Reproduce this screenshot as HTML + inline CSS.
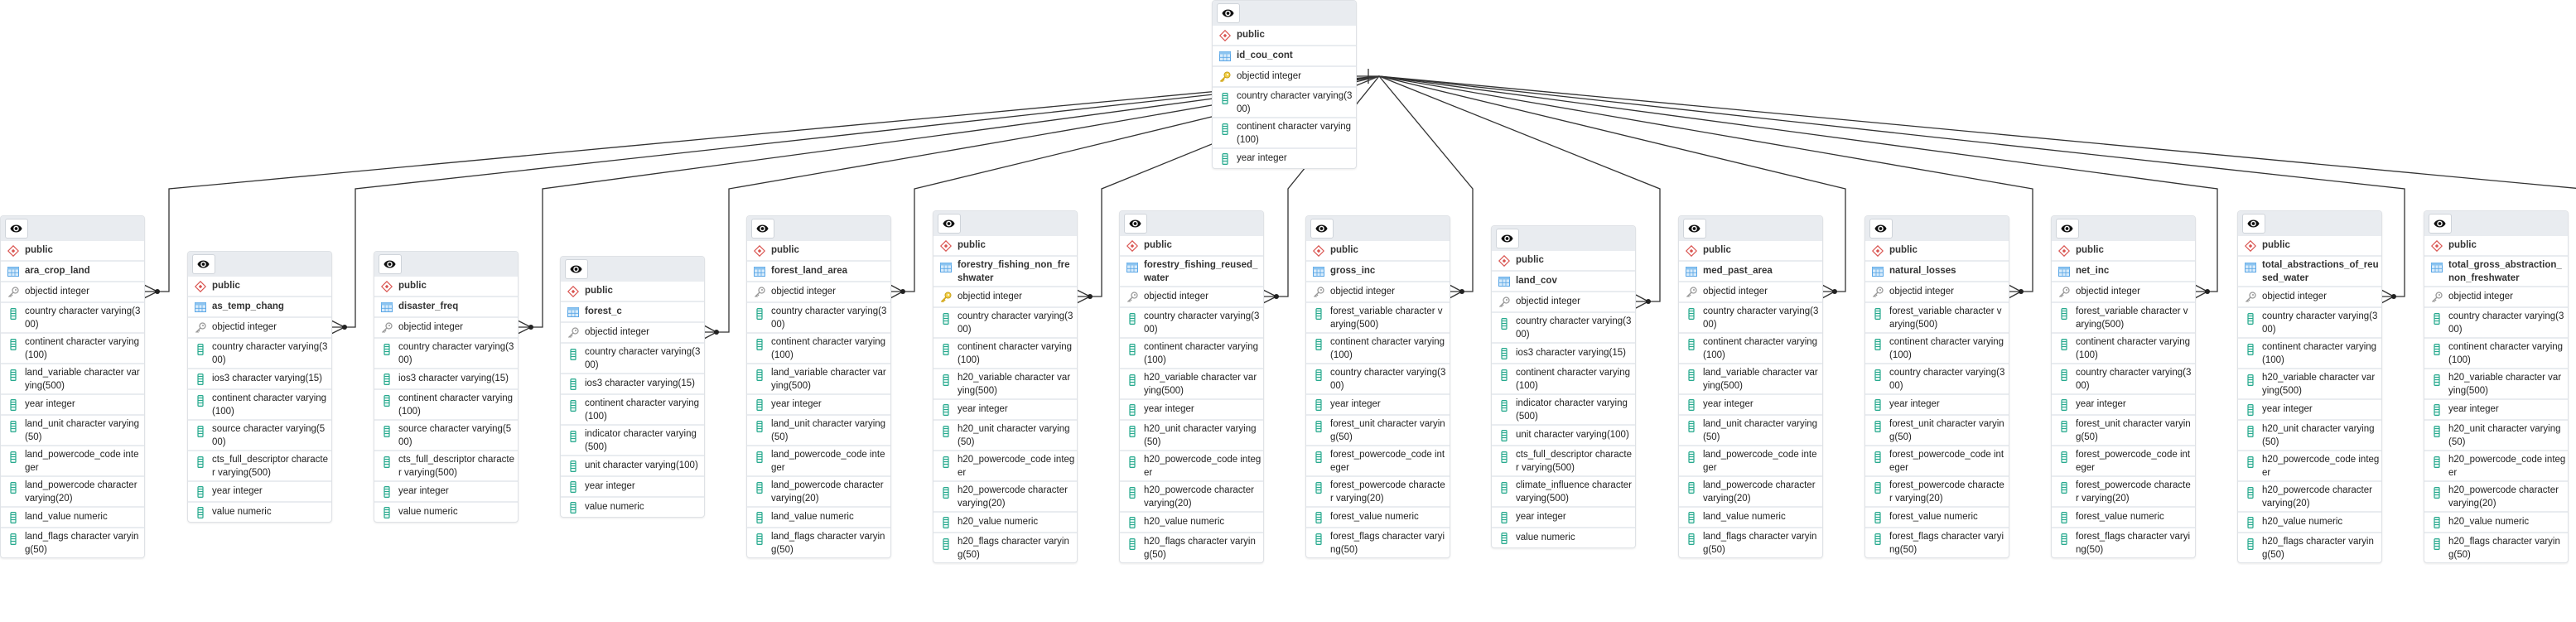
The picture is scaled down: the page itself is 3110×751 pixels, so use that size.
<!DOCTYPE html>
<html><head><meta charset="utf-8">
<style>
html,body{margin:0;padding:0;background:#fff;width:3110px;height:751px;overflow:hidden;position:relative;font-family:"Liberation Sans",Arial,sans-serif;}
svg.lines{position:absolute;left:0;top:0;z-index:1}
.t{position:absolute;width:173px;background:#fff;border:1px solid #dfe2e6;border-radius:4px;z-index:2;box-shadow:0 1px 2px rgba(0,0,0,.08);overflow:hidden}
.h{height:30px;background:#e9ecf0;position:relative}
.eb{position:absolute;left:5px;top:3px;width:26px;height:22px;background:#fff;border:1px solid #cfd4da;border-radius:3px}
.eb svg{position:absolute;left:4px;top:5px;width:17px;height:12px}
.r,.r2{position:relative;padding-left:29px;border-top:2px solid #e9ecf0;font-size:11.5px;color:#222;white-space:nowrap}
.r{height:23px;line-height:23px}
.r2{line-height:16px;padding-top:2px;box-sizing:content-box;height:33px}
.b{font-weight:bold;color:#333}
.h+.r{border-top:none}
.i{position:absolute;left:8px;top:5px;width:14px;height:14px}
.r2 .i{top:6px}
</style></head><body>
<svg width="0" height="0" style="position:absolute">
<defs>
<symbol id="eye" viewBox="0 0 14 11"><path d="M0.5 5.5 C3 0 11 0 13.5 5.5 C11 11 3 11 0.5 5.5Z" fill="#111"/><circle cx="7" cy="5.5" r="3" fill="#fff"/><circle cx="7" cy="5.5" r="1.7" fill="#111"/></symbol>
<symbol id="pub" viewBox="0 0 14 14"><path d="M7 0.8 L13.2 7 L7 13.2 L0.8 7Z" fill="#fff" stroke="#d9534f" stroke-width="1.2"/><path d="M7 4.8 L9.2 7 L7 9.2 L4.8 7Z" fill="#d9534f"/></symbol>
<symbol id="tbl" viewBox="0 0 14 14"><rect x="0.5" y="1.5" width="13" height="11" fill="#d7ebfb" stroke="#5aa6e6"/><rect x="0.5" y="1.5" width="13" height="3" fill="#8cc4f0"/><path d="M0.5 8.3H13.5M5 4.5V12.5M9 4.5V12.5" stroke="#5aa6e6" stroke-width="0.8"/></symbol>
<symbol id="key" viewBox="0 0 14 14"><circle cx="9.5" cy="4.5" r="3.5" fill="#fff" stroke="#999" stroke-width="1.3"/><circle cx="10" cy="4" r="1" fill="#999"/><path d="M7 7 L1.5 12.5 M3 11 L4.5 12.5 M4.5 9.5 L6 11" stroke="#999" stroke-width="1.4"/></symbol>
<symbol id="gkey" viewBox="0 0 14 14"><circle cx="9.5" cy="4.5" r="3.5" fill="#f3d04a" stroke="#c9a21a" stroke-width="1"/><circle cx="10" cy="4" r="1" fill="#fff"/><path d="M7 7 L1.5 12.5 M3 11 L4.5 12.5 M4.5 9.5 L6 11" stroke="#d4aa1e" stroke-width="1.8"/></symbol>
<symbol id="col" viewBox="0 0 14 14"><rect x="4" y="0.6" width="6" height="12.8" rx="1" fill="#e8f8f4" stroke="#27a98e" stroke-width="1.2"/><path d="M4 3.5H10M4 6.5H10M4 9.5H10" stroke="#27a98e" stroke-width="0.9"/></symbol>
</defs></svg>

<svg class="lines" width="3110" height="751" viewBox="0 0 3110 751">
<g fill="none" stroke="#333" stroke-width="1.3">
<path d="M1636 92H1665M1652 83V101"/>
<path d="M1665 92L204 228V352H190M190 352L174 344M190 352L174 352M190 352L174 360"/>
<path d="M1665 92L429 228V395H416M416 395L400 387M416 395L400 395M416 395L400 403"/>
<path d="M1665 92L655 228V395H641M641 395L625 387M641 395L625 395M641 395L625 403"/>
<path d="M1665 92L880 228V401H865M865 401L850 393M865 401L850 401M865 401L850 409"/>
<path d="M1665 92L1104 228V352H1090M1090 352L1075 344M1090 352L1075 352M1090 352L1075 360"/>
<path d="M1665 92L1330 228V358H1316M1316 358L1300 350M1316 358L1300 358M1316 358L1300 366"/>
<path d="M1665 92L1555 228V358H1541M1541 358L1525 350M1541 358L1525 358M1541 358L1525 366"/>
<path d="M1665 92L1778 228V352H1765M1765 352L1750 344M1765 352L1750 352M1765 352L1750 360"/>
<path d="M1665 92L2004 228V364H1990M1990 364L1975 356M1990 364L1975 364M1990 364L1975 372"/>
<path d="M1665 92L2228 228V352H2215M2215 352L2200 344M2215 352L2200 352M2215 352L2200 360"/>
<path d="M1665 92L2454 228V352H2440M2440 352L2425 344M2440 352L2425 352M2440 352L2425 360"/>
<path d="M1665 92L2677 228V352H2665M2665 352L2650 344M2665 352L2650 352M2665 352L2650 360"/>
<path d="M1665 92L2903 228V358H2890M2890 358L2875 350M2890 358L2875 358M2890 358L2875 366"/>
<path d="M1665 92L3128 229"/>
</g>
<g fill="#222">
<circle cx="190" cy="352" r="3"/><circle cx="416" cy="395" r="3"/><circle cx="641" cy="395" r="3"/><circle cx="865" cy="401" r="3"/><circle cx="1090" cy="352" r="3"/><circle cx="1316" cy="358" r="3"/><circle cx="1541" cy="358" r="3"/><circle cx="1765" cy="352" r="3"/><circle cx="1990" cy="364" r="3"/><circle cx="2215" cy="352" r="3"/><circle cx="2440" cy="352" r="3"/><circle cx="2665" cy="352" r="3"/><circle cx="2890" cy="358" r="3"/>
</g>
</svg>

<div class="t" style="left:1463px;top:0px">
<div class="h"><div class="eb"><svg><use href="#eye"/></svg></div></div>
<div class="r b"><svg class="i"><use href="#pub"/></svg>public</div>
<div class="r b"><svg class="i"><use href="#tbl"/></svg>id_cou_cont</div>
<div class="r"><svg class="i"><use href="#gkey"/></svg>objectid integer</div>
<div class="r2"><svg class="i"><use href="#col"/></svg>country character varying(3<br>00)</div>
<div class="r2"><svg class="i"><use href="#col"/></svg>continent character varying<br>(100)</div>
<div class="r"><svg class="i"><use href="#col"/></svg>year integer</div>
</div>

<div class="t" style="left:0px;top:260px">
<div class="h"><div class="eb"><svg><use href="#eye"/></svg></div></div>
<div class="r b"><svg class="i"><use href="#pub"/></svg>public</div>
<div class="r b"><svg class="i"><use href="#tbl"/></svg>ara_crop_land</div>
<div class="r"><svg class="i"><use href="#key"/></svg>objectid integer</div>
<div class="r2"><svg class="i"><use href="#col"/></svg>country character varying(3<br>00)</div>
<div class="r2"><svg class="i"><use href="#col"/></svg>continent character varying<br>(100)</div>
<div class="r2"><svg class="i"><use href="#col"/></svg>land_variable character var<br>ying(500)</div>
<div class="r"><svg class="i"><use href="#col"/></svg>year integer</div>
<div class="r2"><svg class="i"><use href="#col"/></svg>land_unit character varying<br>(50)</div>
<div class="r2"><svg class="i"><use href="#col"/></svg>land_powercode_code inte<br>ger</div>
<div class="r2"><svg class="i"><use href="#col"/></svg>land_powercode character<br>varying(20)</div>
<div class="r"><svg class="i"><use href="#col"/></svg>land_value numeric</div>
<div class="r2"><svg class="i"><use href="#col"/></svg>land_flags character varyin<br>g(50)</div>
</div>

<div class="t" style="left:226px;top:303px">
<div class="h"><div class="eb"><svg><use href="#eye"/></svg></div></div>
<div class="r b"><svg class="i"><use href="#pub"/></svg>public</div>
<div class="r b"><svg class="i"><use href="#tbl"/></svg>as_temp_chang</div>
<div class="r"><svg class="i"><use href="#key"/></svg>objectid integer</div>
<div class="r2"><svg class="i"><use href="#col"/></svg>country character varying(3<br>00)</div>
<div class="r"><svg class="i"><use href="#col"/></svg>ios3 character varying(15)</div>
<div class="r2"><svg class="i"><use href="#col"/></svg>continent character varying<br>(100)</div>
<div class="r2"><svg class="i"><use href="#col"/></svg>source character varying(5<br>00)</div>
<div class="r2"><svg class="i"><use href="#col"/></svg>cts_full_descriptor characte<br>r varying(500)</div>
<div class="r"><svg class="i"><use href="#col"/></svg>year integer</div>
<div class="r"><svg class="i"><use href="#col"/></svg>value numeric</div>
</div>

<div class="t" style="left:451px;top:303px">
<div class="h"><div class="eb"><svg><use href="#eye"/></svg></div></div>
<div class="r b"><svg class="i"><use href="#pub"/></svg>public</div>
<div class="r b"><svg class="i"><use href="#tbl"/></svg>disaster_freq</div>
<div class="r"><svg class="i"><use href="#key"/></svg>objectid integer</div>
<div class="r2"><svg class="i"><use href="#col"/></svg>country character varying(3<br>00)</div>
<div class="r"><svg class="i"><use href="#col"/></svg>ios3 character varying(15)</div>
<div class="r2"><svg class="i"><use href="#col"/></svg>continent character varying<br>(100)</div>
<div class="r2"><svg class="i"><use href="#col"/></svg>source character varying(5<br>00)</div>
<div class="r2"><svg class="i"><use href="#col"/></svg>cts_full_descriptor characte<br>r varying(500)</div>
<div class="r"><svg class="i"><use href="#col"/></svg>year integer</div>
<div class="r"><svg class="i"><use href="#col"/></svg>value numeric</div>
</div>

<div class="t" style="left:676px;top:309px">
<div class="h"><div class="eb"><svg><use href="#eye"/></svg></div></div>
<div class="r b"><svg class="i"><use href="#pub"/></svg>public</div>
<div class="r b"><svg class="i"><use href="#tbl"/></svg>forest_c</div>
<div class="r"><svg class="i"><use href="#key"/></svg>objectid integer</div>
<div class="r2"><svg class="i"><use href="#col"/></svg>country character varying(3<br>00)</div>
<div class="r"><svg class="i"><use href="#col"/></svg>ios3 character varying(15)</div>
<div class="r2"><svg class="i"><use href="#col"/></svg>continent character varying<br>(100)</div>
<div class="r2"><svg class="i"><use href="#col"/></svg>indicator character varying<br>(500)</div>
<div class="r"><svg class="i"><use href="#col"/></svg>unit character varying(100)</div>
<div class="r"><svg class="i"><use href="#col"/></svg>year integer</div>
<div class="r"><svg class="i"><use href="#col"/></svg>value numeric</div>
</div>

<div class="t" style="left:901px;top:260px">
<div class="h"><div class="eb"><svg><use href="#eye"/></svg></div></div>
<div class="r b"><svg class="i"><use href="#pub"/></svg>public</div>
<div class="r b"><svg class="i"><use href="#tbl"/></svg>forest_land_area</div>
<div class="r"><svg class="i"><use href="#key"/></svg>objectid integer</div>
<div class="r2"><svg class="i"><use href="#col"/></svg>country character varying(3<br>00)</div>
<div class="r2"><svg class="i"><use href="#col"/></svg>continent character varying<br>(100)</div>
<div class="r2"><svg class="i"><use href="#col"/></svg>land_variable character var<br>ying(500)</div>
<div class="r"><svg class="i"><use href="#col"/></svg>year integer</div>
<div class="r2"><svg class="i"><use href="#col"/></svg>land_unit character varying<br>(50)</div>
<div class="r2"><svg class="i"><use href="#col"/></svg>land_powercode_code inte<br>ger</div>
<div class="r2"><svg class="i"><use href="#col"/></svg>land_powercode character<br>varying(20)</div>
<div class="r"><svg class="i"><use href="#col"/></svg>land_value numeric</div>
<div class="r2"><svg class="i"><use href="#col"/></svg>land_flags character varyin<br>g(50)</div>
</div>

<div class="t" style="left:1126px;top:254px">
<div class="h"><div class="eb"><svg><use href="#eye"/></svg></div></div>
<div class="r b"><svg class="i"><use href="#pub"/></svg>public</div>
<div class="r2 b"><svg class="i"><use href="#tbl"/></svg>forestry_fishing_non_fre<br>shwater</div>
<div class="r"><svg class="i"><use href="#gkey"/></svg>objectid integer</div>
<div class="r2"><svg class="i"><use href="#col"/></svg>country character varying(3<br>00)</div>
<div class="r2"><svg class="i"><use href="#col"/></svg>continent character varying<br>(100)</div>
<div class="r2"><svg class="i"><use href="#col"/></svg>h20_variable character var<br>ying(500)</div>
<div class="r"><svg class="i"><use href="#col"/></svg>year integer</div>
<div class="r2"><svg class="i"><use href="#col"/></svg>h20_unit character varying<br>(50)</div>
<div class="r2"><svg class="i"><use href="#col"/></svg>h20_powercode_code integ<br>er</div>
<div class="r2"><svg class="i"><use href="#col"/></svg>h20_powercode character<br>varying(20)</div>
<div class="r"><svg class="i"><use href="#col"/></svg>h20_value numeric</div>
<div class="r2"><svg class="i"><use href="#col"/></svg>h20_flags character varyin<br>g(50)</div>
</div>

<div class="t" style="left:1351px;top:254px">
<div class="h"><div class="eb"><svg><use href="#eye"/></svg></div></div>
<div class="r b"><svg class="i"><use href="#pub"/></svg>public</div>
<div class="r2 b"><svg class="i"><use href="#tbl"/></svg>forestry_fishing_reused_<br>water</div>
<div class="r"><svg class="i"><use href="#key"/></svg>objectid integer</div>
<div class="r2"><svg class="i"><use href="#col"/></svg>country character varying(3<br>00)</div>
<div class="r2"><svg class="i"><use href="#col"/></svg>continent character varying<br>(100)</div>
<div class="r2"><svg class="i"><use href="#col"/></svg>h20_variable character var<br>ying(500)</div>
<div class="r"><svg class="i"><use href="#col"/></svg>year integer</div>
<div class="r2"><svg class="i"><use href="#col"/></svg>h20_unit character varying<br>(50)</div>
<div class="r2"><svg class="i"><use href="#col"/></svg>h20_powercode_code integ<br>er</div>
<div class="r2"><svg class="i"><use href="#col"/></svg>h20_powercode character<br>varying(20)</div>
<div class="r"><svg class="i"><use href="#col"/></svg>h20_value numeric</div>
<div class="r2"><svg class="i"><use href="#col"/></svg>h20_flags character varyin<br>g(50)</div>
</div>

<div class="t" style="left:1576px;top:260px">
<div class="h"><div class="eb"><svg><use href="#eye"/></svg></div></div>
<div class="r b"><svg class="i"><use href="#pub"/></svg>public</div>
<div class="r b"><svg class="i"><use href="#tbl"/></svg>gross_inc</div>
<div class="r"><svg class="i"><use href="#key"/></svg>objectid integer</div>
<div class="r2"><svg class="i"><use href="#col"/></svg>forest_variable character v<br>arying(500)</div>
<div class="r2"><svg class="i"><use href="#col"/></svg>continent character varying<br>(100)</div>
<div class="r2"><svg class="i"><use href="#col"/></svg>country character varying(3<br>00)</div>
<div class="r"><svg class="i"><use href="#col"/></svg>year integer</div>
<div class="r2"><svg class="i"><use href="#col"/></svg>forest_unit character varyin<br>g(50)</div>
<div class="r2"><svg class="i"><use href="#col"/></svg>forest_powercode_code int<br>eger</div>
<div class="r2"><svg class="i"><use href="#col"/></svg>forest_powercode characte<br>r varying(20)</div>
<div class="r"><svg class="i"><use href="#col"/></svg>forest_value numeric</div>
<div class="r2"><svg class="i"><use href="#col"/></svg>forest_flags character varyi<br>ng(50)</div>
</div>

<div class="t" style="left:1800px;top:272px">
<div class="h"><div class="eb"><svg><use href="#eye"/></svg></div></div>
<div class="r b"><svg class="i"><use href="#pub"/></svg>public</div>
<div class="r b"><svg class="i"><use href="#tbl"/></svg>land_cov</div>
<div class="r"><svg class="i"><use href="#key"/></svg>objectid integer</div>
<div class="r2"><svg class="i"><use href="#col"/></svg>country character varying(3<br>00)</div>
<div class="r"><svg class="i"><use href="#col"/></svg>ios3 character varying(15)</div>
<div class="r2"><svg class="i"><use href="#col"/></svg>continent character varying<br>(100)</div>
<div class="r2"><svg class="i"><use href="#col"/></svg>indicator character varying<br>(500)</div>
<div class="r"><svg class="i"><use href="#col"/></svg>unit character varying(100)</div>
<div class="r2"><svg class="i"><use href="#col"/></svg>cts_full_descriptor characte<br>r varying(500)</div>
<div class="r2"><svg class="i"><use href="#col"/></svg>climate_influence character<br>varying(500)</div>
<div class="r"><svg class="i"><use href="#col"/></svg>year integer</div>
<div class="r"><svg class="i"><use href="#col"/></svg>value numeric</div>
</div>

<div class="t" style="left:2026px;top:260px">
<div class="h"><div class="eb"><svg><use href="#eye"/></svg></div></div>
<div class="r b"><svg class="i"><use href="#pub"/></svg>public</div>
<div class="r b"><svg class="i"><use href="#tbl"/></svg>med_past_area</div>
<div class="r"><svg class="i"><use href="#key"/></svg>objectid integer</div>
<div class="r2"><svg class="i"><use href="#col"/></svg>country character varying(3<br>00)</div>
<div class="r2"><svg class="i"><use href="#col"/></svg>continent character varying<br>(100)</div>
<div class="r2"><svg class="i"><use href="#col"/></svg>land_variable character var<br>ying(500)</div>
<div class="r"><svg class="i"><use href="#col"/></svg>year integer</div>
<div class="r2"><svg class="i"><use href="#col"/></svg>land_unit character varying<br>(50)</div>
<div class="r2"><svg class="i"><use href="#col"/></svg>land_powercode_code inte<br>ger</div>
<div class="r2"><svg class="i"><use href="#col"/></svg>land_powercode character<br>varying(20)</div>
<div class="r"><svg class="i"><use href="#col"/></svg>land_value numeric</div>
<div class="r2"><svg class="i"><use href="#col"/></svg>land_flags character varyin<br>g(50)</div>
</div>

<div class="t" style="left:2251px;top:260px">
<div class="h"><div class="eb"><svg><use href="#eye"/></svg></div></div>
<div class="r b"><svg class="i"><use href="#pub"/></svg>public</div>
<div class="r b"><svg class="i"><use href="#tbl"/></svg>natural_losses</div>
<div class="r"><svg class="i"><use href="#key"/></svg>objectid integer</div>
<div class="r2"><svg class="i"><use href="#col"/></svg>forest_variable character v<br>arying(500)</div>
<div class="r2"><svg class="i"><use href="#col"/></svg>continent character varying<br>(100)</div>
<div class="r2"><svg class="i"><use href="#col"/></svg>country character varying(3<br>00)</div>
<div class="r"><svg class="i"><use href="#col"/></svg>year integer</div>
<div class="r2"><svg class="i"><use href="#col"/></svg>forest_unit character varyin<br>g(50)</div>
<div class="r2"><svg class="i"><use href="#col"/></svg>forest_powercode_code int<br>eger</div>
<div class="r2"><svg class="i"><use href="#col"/></svg>forest_powercode characte<br>r varying(20)</div>
<div class="r"><svg class="i"><use href="#col"/></svg>forest_value numeric</div>
<div class="r2"><svg class="i"><use href="#col"/></svg>forest_flags character varyi<br>ng(50)</div>
</div>

<div class="t" style="left:2476px;top:260px">
<div class="h"><div class="eb"><svg><use href="#eye"/></svg></div></div>
<div class="r b"><svg class="i"><use href="#pub"/></svg>public</div>
<div class="r b"><svg class="i"><use href="#tbl"/></svg>net_inc</div>
<div class="r"><svg class="i"><use href="#key"/></svg>objectid integer</div>
<div class="r2"><svg class="i"><use href="#col"/></svg>forest_variable character v<br>arying(500)</div>
<div class="r2"><svg class="i"><use href="#col"/></svg>continent character varying<br>(100)</div>
<div class="r2"><svg class="i"><use href="#col"/></svg>country character varying(3<br>00)</div>
<div class="r"><svg class="i"><use href="#col"/></svg>year integer</div>
<div class="r2"><svg class="i"><use href="#col"/></svg>forest_unit character varyin<br>g(50)</div>
<div class="r2"><svg class="i"><use href="#col"/></svg>forest_powercode_code int<br>eger</div>
<div class="r2"><svg class="i"><use href="#col"/></svg>forest_powercode characte<br>r varying(20)</div>
<div class="r"><svg class="i"><use href="#col"/></svg>forest_value numeric</div>
<div class="r2"><svg class="i"><use href="#col"/></svg>forest_flags character varyi<br>ng(50)</div>
</div>

<div class="t" style="left:2701px;top:254px">
<div class="h"><div class="eb"><svg><use href="#eye"/></svg></div></div>
<div class="r b"><svg class="i"><use href="#pub"/></svg>public</div>
<div class="r2 b"><svg class="i"><use href="#tbl"/></svg>total_abstractions_of_reu<br>sed_water</div>
<div class="r"><svg class="i"><use href="#key"/></svg>objectid integer</div>
<div class="r2"><svg class="i"><use href="#col"/></svg>country character varying(3<br>00)</div>
<div class="r2"><svg class="i"><use href="#col"/></svg>continent character varying<br>(100)</div>
<div class="r2"><svg class="i"><use href="#col"/></svg>h20_variable character var<br>ying(500)</div>
<div class="r"><svg class="i"><use href="#col"/></svg>year integer</div>
<div class="r2"><svg class="i"><use href="#col"/></svg>h20_unit character varying<br>(50)</div>
<div class="r2"><svg class="i"><use href="#col"/></svg>h20_powercode_code integ<br>er</div>
<div class="r2"><svg class="i"><use href="#col"/></svg>h20_powercode character<br>varying(20)</div>
<div class="r"><svg class="i"><use href="#col"/></svg>h20_value numeric</div>
<div class="r2"><svg class="i"><use href="#col"/></svg>h20_flags character varyin<br>g(50)</div>
</div>

<div class="t" style="left:2926px;top:254px">
<div class="h"><div class="eb"><svg><use href="#eye"/></svg></div></div>
<div class="r b"><svg class="i"><use href="#pub"/></svg>public</div>
<div class="r2 b"><svg class="i"><use href="#tbl"/></svg>total_gross_abstraction_<br>non_freshwater</div>
<div class="r"><svg class="i"><use href="#key"/></svg>objectid integer</div>
<div class="r2"><svg class="i"><use href="#col"/></svg>country character varying(3<br>00)</div>
<div class="r2"><svg class="i"><use href="#col"/></svg>continent character varying<br>(100)</div>
<div class="r2"><svg class="i"><use href="#col"/></svg>h20_variable character var<br>ying(500)</div>
<div class="r"><svg class="i"><use href="#col"/></svg>year integer</div>
<div class="r2"><svg class="i"><use href="#col"/></svg>h20_unit character varying<br>(50)</div>
<div class="r2"><svg class="i"><use href="#col"/></svg>h20_powercode_code integ<br>er</div>
<div class="r2"><svg class="i"><use href="#col"/></svg>h20_powercode character<br>varying(20)</div>
<div class="r"><svg class="i"><use href="#col"/></svg>h20_value numeric</div>
<div class="r2"><svg class="i"><use href="#col"/></svg>h20_flags character varyin<br>g(50)</div>
</div>

</body></html>
